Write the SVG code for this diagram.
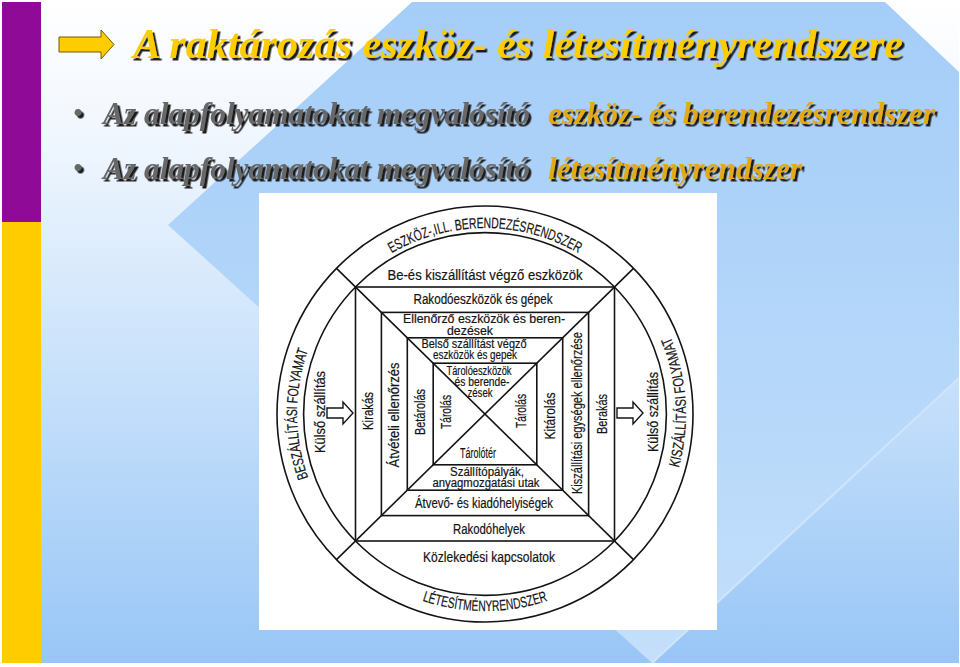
<svg xmlns="http://www.w3.org/2000/svg" width="960" height="667" viewBox="0 0 960 667">
<defs>
  <linearGradient id="bg" gradientUnits="userSpaceOnUse" x1="0" y1="0" x2="0" y2="663">
    <stop offset="0" stop-color="#ffffff"/>
    <stop offset="0.2" stop-color="#f1f7fe"/>
    <stop offset="1" stop-color="#98c6f6"/>
  </linearGradient>
  <linearGradient id="chev" gradientUnits="userSpaceOnUse" x1="0" y1="0" x2="0" y2="663">
    <stop offset="0" stop-color="#a4cdf8"/>
    <stop offset="1" stop-color="#c3dffb"/>
  </linearGradient>
  <filter id="sh" x="-5%" y="-30%" width="110%" height="160%">
    <feDropShadow dx="2.5" dy="2.5" stdDeviation="0.4" flood-color="#1e1e1e" flood-opacity="1"/>
  </filter>
  <path id="pTop" d="M299,414 A186,186 0 0 1 671,414"/>
  <path id="pLeft" d="M485,602 A188,188 0 0 1 485,226"/>
  <path id="pRight" d="M485,615 A201,201 0 0 0 485,213"/>
  <path id="pBot" d="M288,414 A197,197 0 0 0 682,414"/>
  <style>
    .ttl { font-family: "Liberation Serif", "Times New Roman", serif; font-weight: bold; font-style: italic; font-size: 42px; fill: #ffcc00; }
    .bl { font-family: "Liberation Serif", "Times New Roman", serif; font-weight: bold; font-style: italic; font-size: 31px; }
    .gray { fill: #676767; }
    .gold { fill: #e2aa18; }
    .dot { font-family: "Liberation Sans", Arial, sans-serif; font-size: 26px; text-anchor: middle; fill: #676767; }
    .t { font-family: "Liberation Sans", Arial, sans-serif; font-size: 14px; fill: #141414; text-anchor: middle; dominant-baseline: central; stroke: #141414; stroke-width: 0.2; }
    .m { font-size: 12px; }
    .r { font-family: "Liberation Sans", Arial, sans-serif; font-size: 15px; fill: #141414; text-anchor: middle; stroke: #141414; stroke-width: 0.2; }
    .ln { stroke: #141414; stroke-width: 1.6; fill: none; }
    .arw { stroke: #141414; stroke-width: 1.4; fill: #ffffff; }
  </style>
</defs>

<!-- slide background -->
<rect x="0" y="0" width="960" height="667" fill="#ffffff"/>
<rect x="2" y="2" width="957" height="661" fill="url(#bg)"/>
<polygon points="412,2 885,2 959,72 959,378 652,663 168,225" fill="url(#chev)"/>
<line x1="959" y1="378" x2="652" y2="663" stroke="#cfe5fc" stroke-width="2"/>
<rect x="2" y="2" width="39" height="220" fill="#8e0a97"/>
<rect x="2" y="222" width="39" height="441" fill="#ffcc00"/>

<!-- title -->
<g id="title">
  <polygon points="59,37 101,37 101,30 114,44.5 101,59 101,52 59,52" fill="#ffcc00" stroke="#6e5a00" stroke-width="1"/>
  <text class="ttl" x="133" y="58" filter="url(#sh)" textLength="770" lengthAdjust="spacingAndGlyphs">A raktározás eszköz- és létesítményrendszere</text>
</g>

<!-- bullets -->
<g id="bullet1" filter="url(#sh)">
  <text class="dot" x="78" y="121">•</text>
  <text class="bl gray" x="103" y="124" textLength="427" lengthAdjust="spacingAndGlyphs">Az alapfolyamatokat megvalósító</text>
  <text class="bl gold" x="548" y="124" textLength="387" lengthAdjust="spacingAndGlyphs">eszköz- és berendezésrendszer</text>
</g>
<g id="bullet2" filter="url(#sh)">
  <text class="dot" x="78" y="176">•</text>
  <text class="bl gray" x="103" y="179" textLength="427" lengthAdjust="spacingAndGlyphs">Az alapfolyamatokat megvalósító</text>
  <text class="bl gold" x="548" y="179" textLength="254" lengthAdjust="spacingAndGlyphs">létesítményrendszer</text>
</g>

<!-- picture panel -->
<rect x="259" y="193" width="458" height="437" fill="#ffffff"/>

<!-- connectors / structure lines -->
<g id="connectors">
  <circle class="ln" cx="485" cy="414" r="208" stroke-width="1.9"/>
  <circle class="ln" cx="485" cy="414" r="181.4"/>
  <rect class="ln" x="355.5" y="287" width="259" height="254"/>
  <rect class="ln" x="381.4" y="312.4" width="207.2" height="203.2"/>
  <rect class="ln" x="407.3" y="337.8" width="155.4" height="152.4"/>
  <rect class="ln" x="433.2" y="363.2" width="103.6" height="101.6"/>
  <line class="ln" x1="336.5" y1="268.4" x2="633.5" y2="559.6"/>
  <line class="ln" x1="633.5" y1="268.4" x2="336.5" y2="559.6"/>
</g>

<!-- ring labels -->
<g id="ring-top"><text class="r"><textPath href="#pTop" startOffset="50%" textLength="196" lengthAdjust="spacingAndGlyphs">ESZKÖZ-,ILL. BERENDEZÉSRENDSZER</textPath></text></g>
<g id="ring-left"><text class="r"><textPath href="#pLeft" startOffset="50%" textLength="130" lengthAdjust="spacingAndGlyphs">BESZÁLLÍTÁSI FOLYAMAT</textPath></text></g>
<g id="ring-right"><text class="r"><textPath href="#pRight" startOffset="328" textLength="134" lengthAdjust="spacingAndGlyphs">KISZÁLLÍTÁSI FOLYAMAT</textPath></text></g>
<g id="ring-bottom"><text class="r"><textPath href="#pBot" startOffset="50%" textLength="128" lengthAdjust="spacingAndGlyphs">LÉTESÍTMÉNYRENDSZER</textPath></text></g>

<!-- top / bottom bands -->
<g id="n-be-ki"><text class="t" x="485" y="275" textLength="195" lengthAdjust="spacingAndGlyphs">Be-és kiszállítást végző eszközök</text></g>
<g id="n-rakodoeszk"><text class="t" x="483" y="299" textLength="139" lengthAdjust="spacingAndGlyphs">Rakodóeszközök és gépek</text></g>
<g id="n-ellenorzo">
  <text class="t m" x="484" y="318.5" textLength="162" lengthAdjust="spacingAndGlyphs">Ellenőrző eszközök és beren-</text>
  <text class="t m" x="470" y="331" textLength="46" lengthAdjust="spacingAndGlyphs">dezések</text>
</g>
<g id="n-belso">
  <text class="t m" x="474" y="343.5" textLength="105" lengthAdjust="spacingAndGlyphs">Belső szállítást végző</text>
  <text class="t m" x="475" y="355" textLength="84" lengthAdjust="spacingAndGlyphs">eszközök és gepek</text>
</g>
<g id="n-taroloeszk">
  <text class="t m" x="479" y="371" textLength="65" lengthAdjust="spacingAndGlyphs">Tárolóeszközök</text>
  <text class="t m" x="482" y="382" textLength="55" lengthAdjust="spacingAndGlyphs">és berende-</text>
  <text class="t m" x="480" y="393" textLength="25" lengthAdjust="spacingAndGlyphs">zések</text>
</g>
<g id="n-tarolos-l"><text class="t" transform="translate(446,412) rotate(-90)" textLength="34" lengthAdjust="spacingAndGlyphs">Tárolás</text></g>
<g id="n-tarolos-r"><text class="t" transform="translate(521,411) rotate(-90)" textLength="34" lengthAdjust="spacingAndGlyphs">Tárolás</text></g>
<g id="n-tarolorter"><text class="t" x="478" y="453" textLength="36" lengthAdjust="spacingAndGlyphs">Tárolótér</text></g>
<g id="n-szallito">
  <text class="t m" x="487" y="471.5" textLength="74" lengthAdjust="spacingAndGlyphs">Szállítópályák,</text>
  <text class="t m" x="486" y="483" textLength="107" lengthAdjust="spacingAndGlyphs">anyagmozgatási utak</text>
</g>
<g id="n-atvevo"><text class="t" x="484" y="503" textLength="138" lengthAdjust="spacingAndGlyphs">Átvevő- és kiadóhelyiségek</text></g>
<g id="n-rakodohely"><text class="t" x="489" y="529" textLength="72" lengthAdjust="spacingAndGlyphs">Rakodóhelyek</text></g>
<g id="n-kozlek"><text class="t" x="489" y="557" textLength="132" lengthAdjust="spacingAndGlyphs">Közlekedési kapcsolatok</text></g>

<!-- side strips -->
<g id="n-kulso-l"><text class="t" transform="translate(320,412) rotate(-90)" textLength="82" lengthAdjust="spacingAndGlyphs">Külső szállítás</text></g>
<g id="n-kirakas"><text class="t" transform="translate(368,411) rotate(-90)" textLength="38" lengthAdjust="spacingAndGlyphs">Kirakás</text></g>
<g id="n-atveteli"><text class="t" transform="translate(394,415) rotate(-90)" textLength="105" lengthAdjust="spacingAndGlyphs">Átvételi ellenőrzés</text></g>
<g id="n-betarolas"><text class="t" transform="translate(420,412) rotate(-90)" textLength="46" lengthAdjust="spacingAndGlyphs">Betárolás</text></g>
<g id="n-kitarolas"><text class="t" transform="translate(550,416) rotate(-90)" textLength="47" lengthAdjust="spacingAndGlyphs">Kitárolás</text></g>
<g id="n-kiszall-ell"><text class="t" transform="translate(577,413) rotate(-90)" textLength="162" lengthAdjust="spacingAndGlyphs">Kiszállítási egységek ellenőrzése</text></g>
<g id="n-berakas"><text class="t" transform="translate(602,414) rotate(-90)" textLength="40" lengthAdjust="spacingAndGlyphs">Berakás</text></g>
<g id="n-kulso-r"><text class="t" transform="translate(653,412) rotate(-90)" textLength="80" lengthAdjust="spacingAndGlyphs">Külső szállítás</text></g>

<!-- hollow arrows -->
<g id="arrow-in"><polygon class="arw" points="327,408 343,408 343,402 353,413 343,424 343,418 327,418"/></g>
<g id="arrow-out"><polygon class="arw" points="617,408 633,408 633,402 643,413 633,424 633,418 617,418"/></g>
</svg>
